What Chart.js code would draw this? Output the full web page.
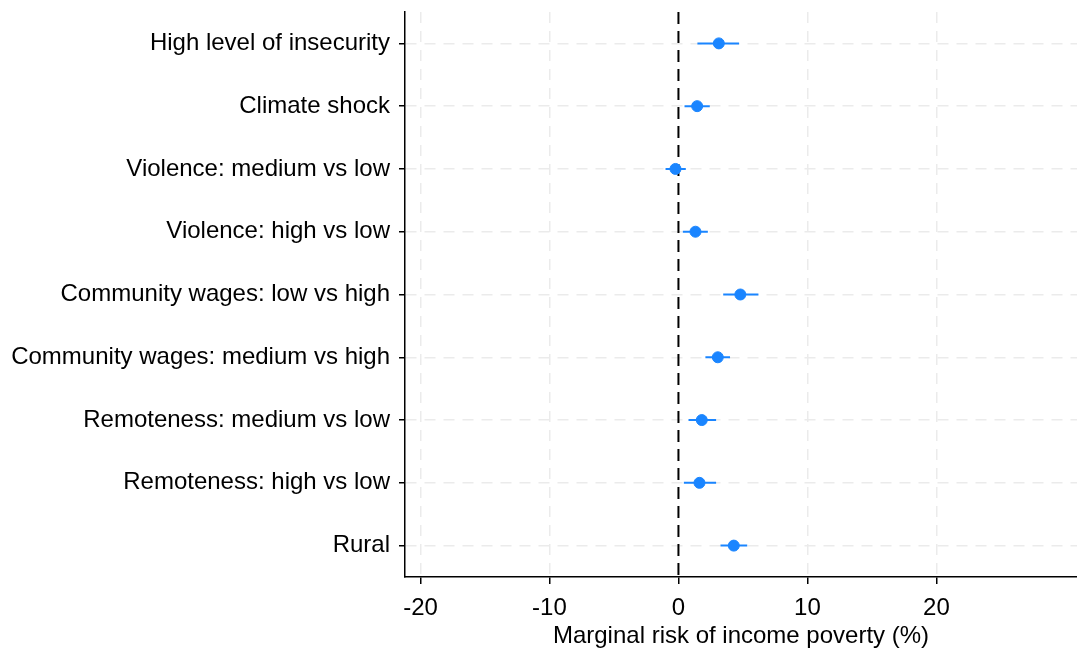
<!DOCTYPE html>
<html>
<head>
<meta charset="utf-8">
<script src="https://cdn.jsdelivr.net/npm/chart.js@4"></script>
<style>
  html, body { margin: 0; padding: 0; background: #ffffff; }
  #wrap { width: 1077px; height: 650px; }
</style>
</head>
<body>
<div id="wrap"><canvas id="coefChart" width="1077" height="650"></canvas></div>
<script>
const categories = [
  "High level of insecurity",
  "Climate shock",
  "Violence: medium vs low",
  "Violence: high vs low",
  "Community wages: low vs high",
  "Community wages: medium vs high",
  "Remoteness: medium vs low",
  "Remoteness: high vs low",
  "Rural",
];
const estimates = [3.13, 1.45, -0.23, 1.32, 4.80, 3.05, 1.81, 1.63, 4.29];
const ciLower = [1.47, 0.47, -1.00, 0.34, 3.47, 2.09, 0.78, 0.42, 3.26];
const ciUpper = [4.70, 2.43, 0.57, 2.28, 6.20, 4.00, 2.92, 2.92, 5.33];
const xTicks = [-20, -10, 0, 10, 20];

const blue = "#1a85ff";
const fontFamily = "Arial, 'Liberation Sans', sans-serif";

const pointData = estimates.map((v, i) => ({ x: v, y: i + 1 }));
const ciData = [];
ciLower.forEach((lo, i) => {
  ciData.push({ x: lo, y: i + 1 });
  ciData.push({ x: ciUpper[i], y: i + 1 });
  ciData.push({ x: NaN, y: NaN });
});

// drop the label overflow padding so the plot area sits where the reference has it
function noPadding(scale) {
  scale.paddingTop = 0;
  scale.paddingBottom = 0;
  scale.paddingLeft = 0;
  scale.paddingRight = 0;
}

new Chart(document.getElementById("coefChart"), {
  type: "scatter",
  data: {
    datasets: [
      {
        label: "zero",
        data: [{ x: 0, y: 0.5 }, { x: 0, y: 9.5 }],
        showLine: true,
        borderColor: "#000000",
        borderWidth: 2,
        borderDash: [12, 7],
        pointRadius: 0,
        order: 3,
      },
      {
        label: "CI",
        data: ciData,
        showLine: true,
        spanGaps: false,
        borderColor: blue,
        borderWidth: 2,
        pointRadius: 0,
        order: 2,
      },
      {
        label: "Estimate",
        data: pointData,
        backgroundColor: blue,
        borderColor: blue,
        pointRadius: 5.5,
        order: 1,
      },
    ],
  },
  options: {
    responsive: false,
    animation: false,
    layout: { autoPadding: false, padding: { top: 12, right: 0, left: 0, bottom: 0 } },
    plugins: {
      legend: { display: false },
      tooltip: { enabled: false },
    },
    scales: {
      x: {
        type: "linear",
        min: -21.2,
        max: 30.9,
        afterBuildTicks: scale => {
          scale.ticks = xTicks.map(v => ({ value: v }));
        },
        afterFit: scale => {
          scale.height = 73;
          noPadding(scale);
        },
        ticks: {
          color: "#000000",
          font: { family: fontFamily, size: 24 },
          padding: 10,
          maxRotation: 0,
          callback: v => String(v),
        },
        grid: {
          color: ctx => (ctx.tick && ctx.tick.value === 0 ? "rgba(0,0,0,0)" : "#ebebeb"),
          lineWidth: 1.5,
          tickColor: "#000000",
          tickWidth: 1.5,
          tickLength: 7,
          tickBorderDash: [],
        },
        border: { display: true, color: "#000000", width: 1.5, dash: [11, 8] },
        title: {
          display: true,
          text: "Marginal risk of income poverty (%)",
          color: "#000000",
          font: { family: fontFamily, size: 24, lineHeight: 1.1 },
          padding: { top: 0, bottom: 0 },
        },
      },
      y: {
        type: "linear",
        reverse: true,
        min: 0.5,
        max: 9.5,
        afterBuildTicks: scale => {
          scale.ticks = categories.map((c, i) => ({ value: i + 1 }));
        },
        afterFit: scale => {
          scale.width = 405;
          noPadding(scale);
        },
        ticks: {
          color: "#000000",
          font: { family: fontFamily, size: 24 },
          padding: 9,
          callback: v => categories[v - 1],
        },
        grid: {
          color: "#ebebeb",
          lineWidth: 1.5,
          tickColor: "#000000",
          tickWidth: 1.5,
          tickLength: 6,
          tickBorderDash: [],
        },
        border: { display: true, color: "#000000", width: 1.5, dash: [11, 8] },
      },
    },
  },
});
</script>
</body>
</html>
